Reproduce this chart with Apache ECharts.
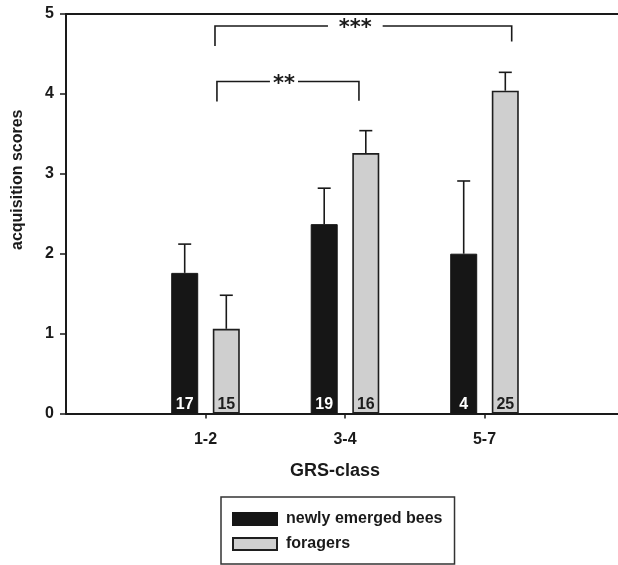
<!DOCTYPE html>
<html>
<head>
<meta charset="utf-8">
<script src="https://cdn.jsdelivr.net/npm/echarts@6/dist/echarts.min.js"></script>
<style>
html,body{margin:0;padding:0;background:#fff;}
#chart{width:618px;height:565px;}
</style>
</head>
<body>
<div id="chart"></div>
<script>
// ---- data ----
const categories = ['1-2', '3-4', '5-7'];
const categoryPos = [1, 2, 3];
const newlyMean = [1.76, 2.37, 2.00];
const newlyUpper = [2.12, 2.82, 2.91];
const newlyN = [17, 19, 4];
const foragerMean = [1.06, 3.26, 4.04];
const foragerUpper = [1.48, 3.54, 4.27];
const foragerN = [15, 16, 25];
const yTicks = [0, 1, 2, 3, 4, 5];
// significance brackets: [xLeft, xRight, yTop, yLeftEnd, yRightEnd, gapStart, gapEnd, label]
const brackets = [
  [1.068, 3.195, 4.85, 4.60, 4.655, 1.878, 2.270, '***'],
  [1.082, 2.100, 4.155, 3.905, 3.915, 1.462, 1.663, '**']
];

const FONT = '"Liberation Sans", Arial, Helvetica, sans-serif';
const INK = '#1a1a1a';
const OFF = 20.8;

const chart = echarts.init(document.getElementById('chart'), null, {renderer: 'canvas'});

function errRender(dx) {
  return function (params, api) {
    const x = api.value(0);
    const p = api.coord([x, api.value(1)]);
    const u = api.coord([x, api.value(2)]);
    const cx = p[0] + dx;
    return {
      type: 'group',
      children: [
        {type: 'line', shape: {x1: cx, y1: p[1], x2: cx, y2: u[1]}, style: {stroke: INK, lineWidth: 1.6}},
        {type: 'line', shape: {x1: cx - 6.5, y1: u[1], x2: cx + 6.5, y2: u[1]}, style: {stroke: INK, lineWidth: 1.6}}
      ]
    };
  };
}

function bracketRender(params, api) {
  const xl = api.value(0), xr = api.value(1), yt = api.value(2), yl = api.value(3), yr = api.value(4);
  const gs = api.value(5), ge = api.value(6);
  const lt = api.coord([xl, yt]);
  const lb = api.coord([xl, yl]);
  const rt = api.coord([xr, yt]);
  const rb = api.coord([xr, yr]);
  const g1 = api.coord([gs, yt]);
  const g2 = api.coord([ge, yt]);
  const st = {stroke: INK, lineWidth: 1.6};
  return {
    type: 'group',
    children: [
      {type: 'polyline', shape: {points: [[lb[0], lb[1]], [lt[0], lt[1]], [g1[0], g1[1]]]}, style: Object.assign({fill: null}, st)},
      {type: 'polyline', shape: {points: [[g2[0], g2[1]], [rt[0], rt[1]], [rb[0], rb[1]]]}, style: Object.assign({fill: null}, st)},
      {type: 'text', x: (g1[0] + g2[0]) / 2, y: lt[1] + 3,
       style: {text: brackets[params.dataIndex][7], fill: INK, font: 'bold 21px "DejaVu Sans", sans-serif', align: 'center', verticalAlign: 'middle'}}
    ]
  };
}

const option = {
  animation: false,
  backgroundColor: '#fff',
  grid: {left: 66, right: 0, top: 14, bottom: 151.5, containLabel: false},
  legend: {
    type: 'plain',
    orient: 'vertical',
    left: 221, top: 497,
    width: 211, height: 60,
    padding: [14, 12, 12, 11],
    borderColor: '#333', borderWidth: 1.5,
    itemWidth: 44, itemHeight: 12, itemGap: 9,
    icon: 'rect',
    align: 'left',
    textStyle: {fontFamily: FONT, fontWeight: 'bold', fontSize: 16, color: INK, padding: [0, 0, 0, 4]},
    data: ['newly emerged bees', 'foragers']
  },
  xAxis: [
    {
      type: 'value', min: 0, max: 3.957, interval: 1,
      axisLine: {show: true, onZero: false, lineStyle: {color: INK, width: 2}},
      axisTick: {show: true, length: 5, lineStyle: {color: INK, width: 1.5}, customValues: categoryPos},
      splitLine: {show: false},
      axisLabel: {
        customValues: categoryPos,
        formatter: v => categories[categoryPos.indexOf(v)] || '',
        fontFamily: FONT, fontWeight: 'bold', fontSize: 16, color: INK, margin: 18
      },
      name: 'GRS-class', nameLocation: 'middle', nameGap: 49,
      nameTextStyle: {fontFamily: FONT, fontWeight: 'bold', fontSize: 18, color: INK, padding: [0, 14, 0, 0]}
    },
    {
      type: 'value', min: 0, max: 3.957, position: 'top',
      axisLine: {show: true, onZero: false, lineStyle: {color: INK, width: 2}},
      axisTick: {show: false}, axisLabel: {show: false}, splitLine: {show: false}
    }
  ],
  yAxis: {
    type: 'value', min: yTicks[0], max: yTicks[yTicks.length - 1], interval: 1,
    axisLine: {show: true, lineStyle: {color: INK, width: 2}},
    axisTick: {show: true, length: 6, lineStyle: {color: INK, width: 1.5}},
    splitLine: {show: false},
    axisLabel: {fontFamily: FONT, fontWeight: 'bold', fontSize: 16, color: INK, margin: 12},
    name: 'acquisition scores', nameLocation: 'middle', nameGap: 40,
    nameTextStyle: {fontFamily: FONT, fontWeight: 'bold', fontSize: 16, color: INK, padding: [0, 0, 0, 68]}
  },
  series: [
    {
      name: 'newly emerged bees', type: 'bar', xAxisIndex: 0,
      barWidth: 27, barGap: '54%',
      itemStyle: {color: '#161616', borderColor: '#161616', borderWidth: 1},
      label: {show: true, position: 'insideBottom', distance: 1, color: '#fff',
        fontFamily: FONT, fontWeight: 'bold', fontSize: 16,
        formatter: p => String(newlyN[p.dataIndex])},
      data: categoryPos.map((x, i) => [x, newlyMean[i]]),
      z: 3
    },
    {
      name: 'foragers', type: 'bar', xAxisIndex: 0,
      barWidth: 27, barGap: '54%',
      itemStyle: {color: '#cfcfcf', borderColor: '#1e1e1e', borderWidth: 1.6},
      label: {show: true, position: 'insideBottom', distance: 1, color: '#1e1e1e',
        fontFamily: FONT, fontWeight: 'bold', fontSize: 16,
        formatter: p => String(foragerN[p.dataIndex])},
      data: categoryPos.map((x, i) => [x, foragerMean[i]]),
      z: 3
    },
    {
      type: 'custom', xAxisIndex: 0, renderItem: errRender(-OFF), z: 2,
      data: categoryPos.map((x, i) => [x, newlyMean[i], newlyUpper[i]]), silent: true
    },
    {
      type: 'custom', xAxisIndex: 0, renderItem: errRender(OFF), z: 2,
      data: categoryPos.map((x, i) => [x, foragerMean[i], foragerUpper[i]]), silent: true
    },
    {
      type: 'custom', xAxisIndex: 0, renderItem: bracketRender, z: 4, silent: true,
      data: brackets.map(b => b.slice(0, 7))
    }
  ]
};
chart.setOption(option);
</script>
</body>
</html>
